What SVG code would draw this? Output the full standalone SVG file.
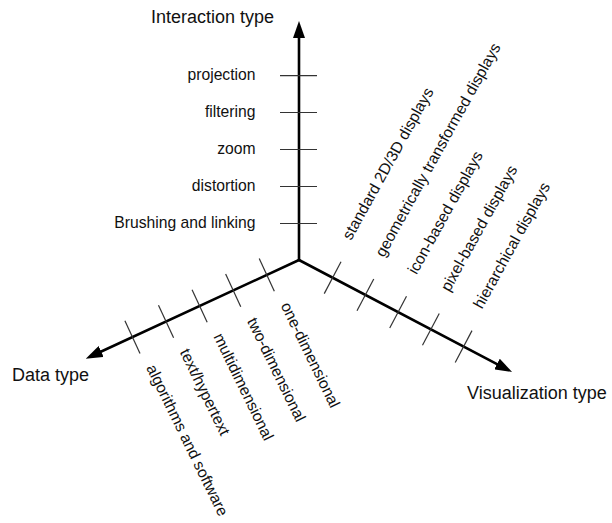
<svg xmlns="http://www.w3.org/2000/svg" width="612" height="523" viewBox="0 0 612 523">
<style>
  .axis { stroke: #000; stroke-width: 2.6; fill: none; stroke-linecap: round; }
  .tick { stroke: #333; stroke-width: 1.2; fill: none; }
  .title { font-family: "Liberation Sans", Arial, sans-serif; font-size: 18px; fill: #111; }
  .lab { font-family: "Liberation Sans", Arial, sans-serif; font-size: 15.7px; fill: #111; }
  .end { text-anchor: end; }
</style>
<defs>
  <marker id="arr" markerUnits="userSpaceOnUse" markerWidth="17" markerHeight="12" refX="7" refY="6" orient="auto" viewBox="0 0 17 12">
    <path d="M0,0 L17,6 L0,12 z" fill="#000"/>
  </marker>
</defs>
<rect width="612" height="523" fill="#fff"/>
<g id="connectors">
  <line class="axis" x1="299" y1="260" x2="299" y2="31" marker-end="url(#arr)"/>
  <line class="axis" x1="299" y1="260" x2="94.8" y2="354.5" marker-end="url(#arr)"/>
  <line class="axis" x1="299" y1="260" x2="503.2" y2="367.3" marker-end="url(#arr)"/>
  <line class="tick" x1="280" y1="75.7" x2="317" y2="75.7"/>
  <line class="tick" x1="280" y1="112.5" x2="317" y2="112.5"/>
  <line class="tick" x1="280" y1="149.5" x2="317" y2="149.5"/>
  <line class="tick" x1="280" y1="186.5" x2="317" y2="186.5"/>
  <line class="tick" x1="280" y1="223.5" x2="317" y2="223.5"/>
  <line class="tick" x1="259.22" y1="258.57" x2="274.34" y2="291.25"/>
  <line class="tick" x1="225.64" y1="274.10" x2="240.76" y2="306.78"/>
  <line class="tick" x1="192.06" y1="289.64" x2="207.18" y2="322.32"/>
  <line class="tick" x1="158.48" y1="305.18" x2="173.60" y2="337.86"/>
  <line class="tick" x1="124.90" y1="320.71" x2="140.02" y2="353.39"/>
  <line class="tick" x1="324.25" y1="293.62" x2="341.01" y2="261.76"/>
  <line class="tick" x1="357.00" y1="310.84" x2="373.76" y2="278.98"/>
  <line class="tick" x1="389.74" y1="328.07" x2="406.50" y2="296.21"/>
  <line class="tick" x1="422.49" y1="345.29" x2="439.25" y2="313.43"/>
  <line class="tick" x1="455.23" y1="362.51" x2="471.99" y2="330.65"/>
</g>
<g id="interaction-axis">
  <text class="title" x="151" y="23">Interaction type</text>
  <text class="lab end" x="255.5" y="80.2">projection</text>
  <text class="lab end" x="255.5" y="117">filtering</text>
  <text class="lab end" x="255.5" y="154">zoom</text>
  <text class="lab end" x="255.5" y="191">distortion</text>
  <text class="lab end" x="255.5" y="228">Brushing and linking</text>
</g>
<g id="data-axis">
  <text class="title" x="12" y="381">Data type</text>
  <text class="lab" transform="translate(280.4,305.5) rotate(64)">one-dimensional</text>
  <text class="lab" transform="translate(246.8,321.0) rotate(64)">two-dimensional</text>
  <text class="lab" transform="translate(213.2,336.6) rotate(64)">multidimensional</text>
  <text class="lab" transform="translate(179.6,352.1) rotate(64)">text/hypertext</text>
  <text class="lab" transform="translate(146.1,367.7) rotate(64)">algorithms and software</text>
</g>
<g id="visualization-axis">
  <text class="title" x="467" y="399">Visualization type</text>
  <text class="lab" transform="translate(351.1,240.9) rotate(-61)">standard 2D/3D displays</text>
  <text class="lab" transform="translate(383.9,258.1) rotate(-61)">geometrically transformed displays</text>
  <text class="lab" transform="translate(416.6,275.3) rotate(-61)">icon-based displays</text>
  <text class="lab" transform="translate(449.4,292.6) rotate(-61)">pixel-based displays</text>
  <text class="lab" transform="translate(482.1,309.8) rotate(-61)">hierarchical displays</text>
</g>
</svg>
